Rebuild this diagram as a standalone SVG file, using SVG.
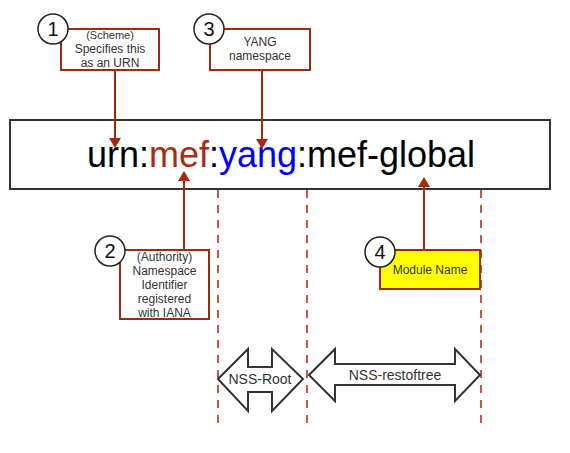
<svg xmlns="http://www.w3.org/2000/svg" width="570" height="453" viewBox="0 0 570 453">
<style>
  text { font-family: "Liberation Sans", Arial, sans-serif; }
  .lbl { font-size: 12px; fill: #333333; text-anchor: middle; }
  .sm { font-size: 11px; }
  .note { fill: #ffffff; stroke: #9E2A10; stroke-width: 2; }
  .badge { fill: #ffffff; stroke: #222222; stroke-width: 1.5; }
  .num { font-size: 20px; fill: #111111; text-anchor: middle; }
  .arrow { stroke: #A52A0D; stroke-width: 2; fill: none; }
  .sep { stroke: #C8554A; stroke-width: 2; stroke-dasharray: 8 7; fill: none; }
  .dbl { fill: #ffffff; stroke: #333333; stroke-width: 2; stroke-linejoin: miter; }
  .dbltxt { font-size: 14px; fill: #333333; text-anchor: middle; }
</style>
<defs>
  <marker id="head" markerUnits="userSpaceOnUse" viewBox="0 0 10 12" markerWidth="10" markerHeight="12" refX="6" refY="6" orient="auto">
    <path d="M0,0 L10,6 L0,12 Z" fill="#A52A0D"/>
  </marker>
</defs>
<rect width="570" height="453" fill="#ffffff"/>

<g id="urn-box">
  <rect x="10" y="120" width="540" height="69" fill="#ffffff" stroke="#333333" stroke-width="2"/>
  <text x="281" y="167" font-size="36" text-anchor="middle" fill="#000000">urn:<tspan fill="#A82C10">mef</tspan>:<tspan fill="#0000FF">yang</tspan>:mef-global</text>
</g>

<g id="separators">
  <line class="sep" x1="218" y1="190" x2="218" y2="428"/>
  <line class="sep" x1="307" y1="190" x2="307" y2="429"/>
  <line class="sep" x1="481" y1="190" x2="481" y2="425"/>
</g>

<g id="connectors">
  <line class="arrow" x1="115" y1="70" x2="115" y2="144" marker-end="url(#head)"/>
  <line class="arrow" x1="262" y1="70" x2="262" y2="145" marker-end="url(#head)"/>
  <line class="arrow" x1="184" y1="250" x2="184" y2="175" marker-end="url(#head)"/>
  <line class="arrow" x1="424" y1="250" x2="424" y2="181" marker-end="url(#head)"/>
</g>

<g id="node-scheme">
  <rect class="note" x="61" y="29" width="98" height="41"/>
  <text class="lbl sm" x="110" y="39">(Scheme)</text>
  <text class="lbl" x="110" y="53">Specifies this</text>
  <text class="lbl" x="110" y="67">as an URN</text>
  <circle class="badge" cx="53" cy="29" r="15"/>
  <text class="num" x="53" y="36">1</text>
</g>

<g id="node-yang">
  <rect class="note" x="210" y="29" width="100" height="41"/>
  <text class="lbl" x="260" y="46">YANG</text>
  <text class="lbl" x="260" y="60">namespace</text>
  <circle class="badge" cx="209" cy="29" r="15"/>
  <text class="num" x="209" y="36">3</text>
</g>

<g id="node-authority">
  <rect class="note" x="120" y="250" width="89" height="69"/>
  <text class="lbl" x="164.5" y="261">(Authority)</text>
  <text class="lbl" x="164.5" y="275">Namespace</text>
  <text class="lbl" x="164.5" y="289">Identifier</text>
  <text class="lbl" x="164.5" y="303">registered</text>
  <text class="lbl" x="164.5" y="317">with IANA</text>
  <circle class="badge" cx="110" cy="251" r="15"/>
  <text class="num" x="110" y="258">2</text>
</g>

<g id="node-module">
  <rect x="380" y="250" width="100" height="39" fill="#FFFF00" stroke="#9E2A10" stroke-width="2"/>
  <text class="lbl" x="430" y="274">Module Name</text>
  <circle class="badge" cx="380" cy="252" r="15"/>
  <text class="num" x="380" y="259">4</text>
</g>

<g id="nss-root">
  <polygon class="dbl" points="218,379 248,349 248,367 272,367 272,349 303,379 272,411 272,392 248,392 248,411"/>
  <text class="dbltxt" x="260" y="384">NSS-Root</text>
</g>

<g id="nss-restoftree">
  <polygon class="dbl" points="309,375 335,349 335,364 455,364 455,349 480,375 455,401 455,385 335,385 335,401"/>
  <text class="dbltxt" x="395" y="380">NSS-restoftree</text>
</g>
</svg>
